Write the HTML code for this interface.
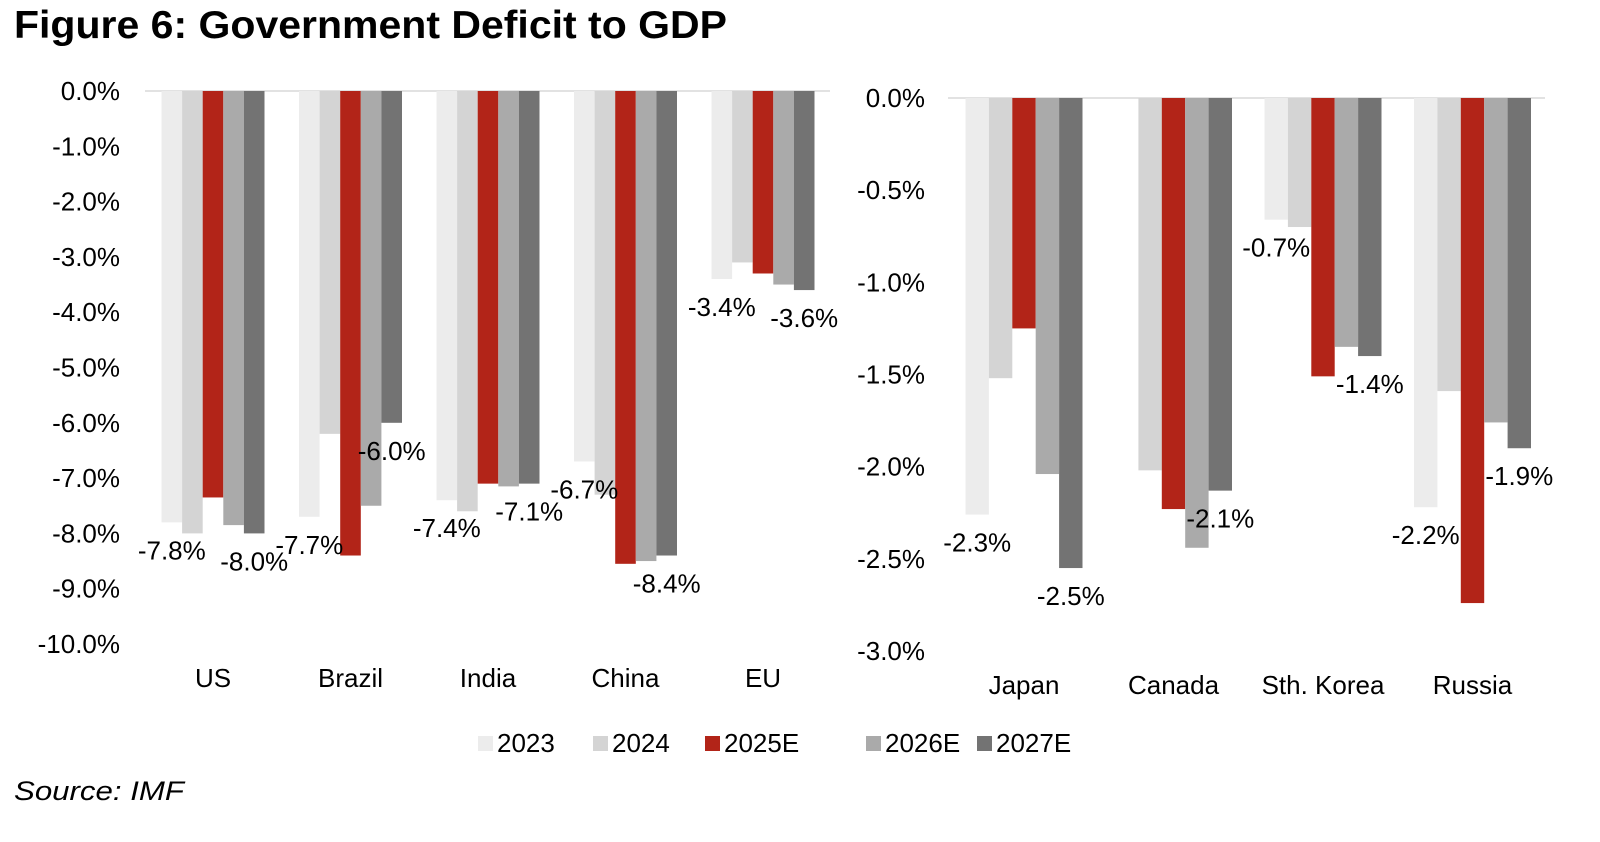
<!DOCTYPE html>
<html><head><meta charset="utf-8"><style>
body{margin:0;background:#fff;font-family:"Liberation Sans",sans-serif;}
svg text{font-family:"Liberation Sans",sans-serif;}
</style></head><body>
<svg width="1600" height="837" viewBox="0 0 1600 837">
<text x="14" y="38" font-size="39" font-weight="bold" textLength="713" lengthAdjust="spacingAndGlyphs">Figure 6: Government Deficit to GDP</text>
<text x="14" y="800" font-size="27" font-style="italic" textLength="170" lengthAdjust="spacingAndGlyphs">Source: IMF</text>
<g id="left"></g>
<g id="right"></g>
<g id="legend"></g>
</svg>
<script>
const seriesNames=["2023","2024","2025E","2026E","2027E"];
const colors=["#ececec","#d4d4d4","#b22418","#aaaaaa","#737373"];
const leftCats=["US","Brazil","India","China","EU"];
const left2023=[-7.8,-7.7,-7.4,-6.7,-3.4];
const left2024=[-8.0,-6.2,-7.6,-7.3,-3.1];
const left2025=[-7.35,-8.4,-7.1,-8.55,-3.3];
const left2026=[-7.85,-7.5,-7.15,-8.5,-3.5];
const left2027=[-8.0,-6.0,-7.1,-8.4,-3.6];
const leftTicks=[0,-1,-2,-3,-4,-5,-6,-7,-8,-9,-10];
const rightCats=["Japan","Canada","Sth. Korea","Russia"];
const right2023=[-2.26,0,-0.66,-2.22];
const right2024=[-1.52,-2.02,-0.70,-1.59];
const right2025=[-1.25,-2.23,-1.51,-2.74];
const right2026=[-2.04,-2.44,-1.35,-1.76];
const right2027=[-2.55,-2.13,-1.40,-1.90];
const rightTicks=[0,-0.5,-1,-1.5,-2,-2.5,-3];
const NS="http://www.w3.org/2000/svg";
function mk(p,t,a){const e=document.createElementNS(NS,t);for(const k in a)e.setAttribute(k,a[k]);p.appendChild(e);return e;}
function draw(g,cfg){
  const y=v=>cfg.y0+(v-0)/(cfg.min)*(cfg.y1-cfg.y0);
  const cx=i=>cfg.c0+i*cfg.step;
  const z=mk(g,"line",{x1:cfg.x0,x2:cfg.x1,y1:y(0),y2:y(0),stroke:"#d9d9d9","stroke-width":1.5});
  
  
  cfg.ticks.forEach(t=>{const e=mk(g,"text",{x:cfg.tickX,y:y(t)+9,"font-size":26,"text-anchor":"end"});
    
    
    e.textContent=t.toFixed(1)+"%";});
  const data=cfg.series;
  const bw=cfg.bw;
  cfg.cats.forEach((c,i)=>{
    data.forEach((s,j)=>{const x=cx(i)-bw*2.5+j*bw;const v=s[i];
      const r=mk(g,"rect",{x:x,y:y(0),width:bw,height:Math.max(0,y(v)-y(0)),fill:colors[j]});
      
      
    });
    [0,4].forEach(j=>{const v=data[j][i]; if(v===0)return;
      const x=cx(i)-bw*2.5+j*bw+bw/2;
      const e=mk(g,"text",{x:x,y:y(v)+37,"font-size":26,"text-anchor":"middle"});
      
      
      e.textContent=v.toFixed(1)+"%";});
    const l=mk(g,"text",{x:cx(i),y:cfg.catY,"font-size":26,"text-anchor":"middle"});
    
    
    l.textContent=c;
  });
}
draw(document.getElementById("left"),{y0:91,y1:644,min:-10,ticks:leftTicks,tickX:120,c0:213,step:137.5,bw:20.6,x0:145,x1:830,catY:687,cats:leftCats,series:[left2023,left2024,left2025,left2026,left2027]});
draw(document.getElementById("right"),{y0:98,y1:651,min:-3,ticks:rightTicks,tickX:925,c0:1024,step:149.5,bw:23.4,x0:948,x1:1545,catY:694,cats:rightCats,series:[right2023,right2024,right2025,right2026,right2027]});
const lg=document.getElementById("legend");
const lx=[478,593,705,866,977];
seriesNames.forEach((n,j)=>{
  const r=mk(lg,"rect",{x:lx[j],y:736,width:15,height:15,fill:colors[j]});
  
  
  const t=mk(lg,"text",{x:lx[j]+19,y:752,"font-size":26});
  
  
  t.textContent=n;
});
</script>
</body></html>
